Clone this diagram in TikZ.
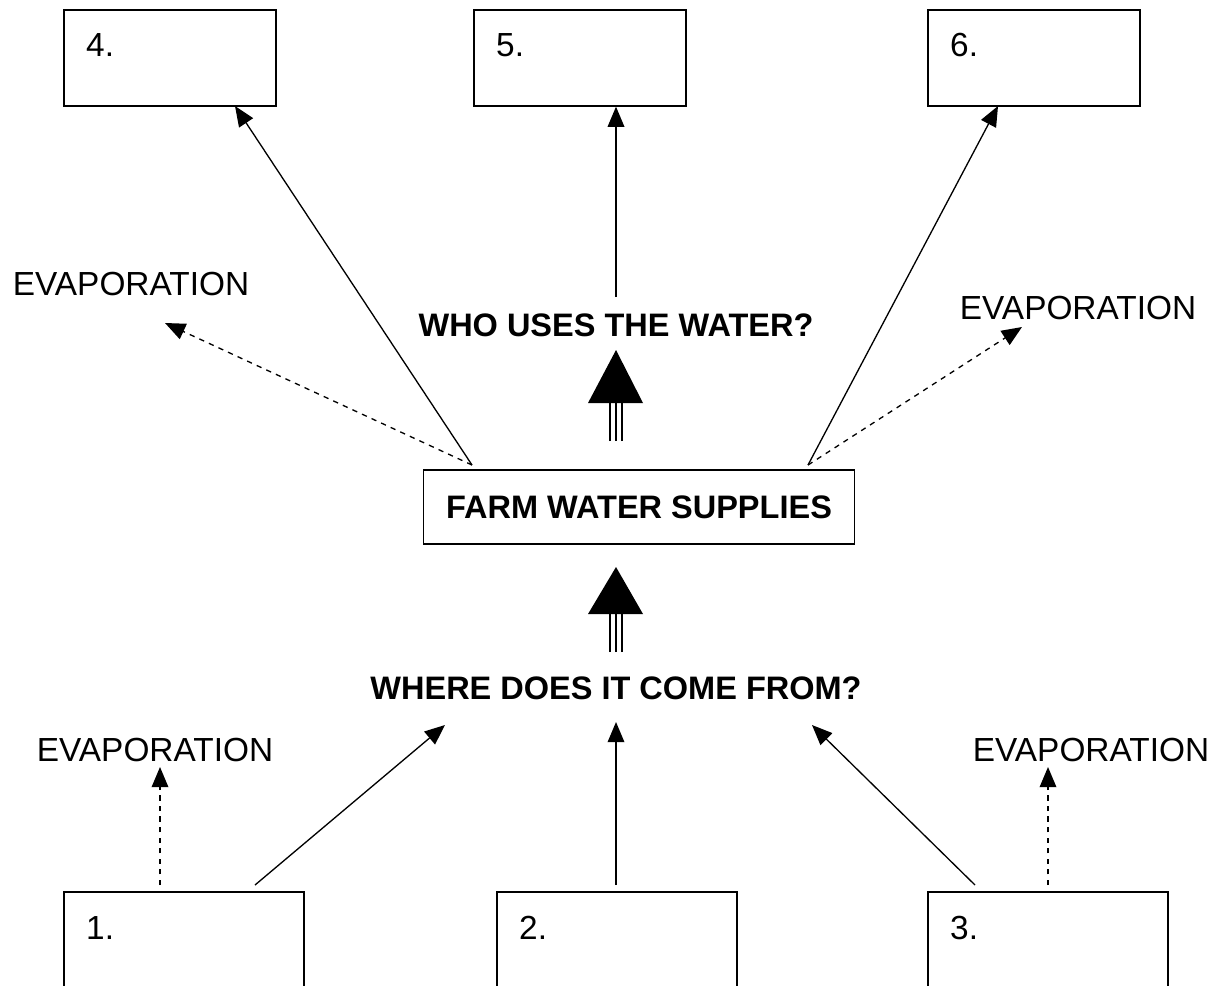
\documentclass[tikz,border=0pt]{standalone}
\usepackage{fontspec}
\setmainfont{Liberation Sans}
\usetikzlibrary{arrows.meta}
\begin{document}
\begin{tikzpicture}[
		x=0.02cm,y=-0.02cm,
		inp/.style = {line width=0.75pt, -{Triangle[length=11.5pt,width=9.5pt]}},
		evap/.style = {inp, dashed},
		shaft/.style = {line width=1.3pt},
		box/.style = {draw, line width=0.75pt, minimum width=212*0.02cm, minimum height=96*0.02cm, inner sep=0pt},
		openbox/.style = {box, minimum width=240*0.02cm, minimum height=130*0.02cm},
		num/.style = {font=\fontsize{19}{22}\selectfont, anchor=west},
		txt/.style = {font=\fontsize{19}{22}\selectfont},
		question/.style = {font=\bfseries\fontsize{18.5}{22}\selectfont}
	]
	\useasboundingbox (0,0) rectangle (1223,985);
	\clip (0,0) rectangle (1223,985);

	% boxes on top
	\node (b4) [box] at (170,58) {};
	\node (b5) [box] at (580,58) {};
	\node (b6) [box] at (1034,58) {};
	\node (n4) [num] at (80,45) {4.};
	\node (n5) [num] at (490,45) {5.};
	\node (n6) [num] at (944,45) {6.};

	% boxes at the bottom, open below
	\node (b1) [openbox] at (184,957) {};
	\node (b2) [openbox] at (617,957) {};
	\node (b3) [openbox] at (1048,957) {};
	\node (n1) [num] at (80,928) {1.};
	\node (n2) [num] at (513,928) {2.};
	\node (n3) [num] at (944,928) {3.};

	\node (farm) [draw, line width=0.75pt, minimum width=431*0.02cm, minimum height=74*0.02cm, question] at (639,507) {FARM WATER SUPPLIES};

	\node (who) [question] at (616,325) {WHO USES THE WATER?};
	\node (where) [question] at (616,688) {WHERE DOES IT COME FROM?};
	\node (evl) [txt] at (131,284) {EVAPORATION};
	\node (evr) [txt] at (1078,308) {EVAPORATION};
	\node (evbl) [txt] at (155,750) {EVAPORATION};
	\node (evbr) [txt] at (1091,750) {EVAPORATION};

	% end points of the arrows
	\coordinate (fl) at (472,465);
	\coordinate (fr) at (808,465);
	\coordinate (w0) at (616,297);
	\coordinate (t4) at (235,106);
	\coordinate (t6) at (998,106);
	\coordinate (tevl) at (165,323);
	\coordinate (tevr) at (1022,327);
	\coordinate (s1) at (160,885);
	\coordinate (s1b) at (255,885);
	\coordinate (s2) at (616,885);
	\coordinate (s3) at (975,885);
	\coordinate (s3b) at (1048,885);
	\coordinate (tw1) at (445,725);
	\coordinate (tw2) at (616,722);
	\coordinate (tw3) at (812,725);

	\path [inp] (fl) edge (t4);
	\path [inp] (w0) edge (b5.south -| w0);
	\path [inp] (fr) edge (t6);
	\path [evap] (fl) edge (tevl);
	\path [evap] (fr) edge (tevr);

	\path [evap] (s1) edge (s1 |- 0,767);
	\path [inp] (s1b) edge (tw1);
	\path [inp] (s2) edge (tw2);
	\path [inp] (s3) edge (tw3);
	\path [evap] (s3b) edge (s3b |- 0,767);

	% the two big arrows
	\foreach \y/\top/\base in {441/350/403, 652/567/614} {
		\foreach \dx in {-6,0,6}
			\draw [shaft] (616+\dx,\y) -- (616+\dx,\base);
		\fill (616,\top) -- (588,\base) -- (643,\base) -- cycle;
	}
\end{tikzpicture}
\end{document}
